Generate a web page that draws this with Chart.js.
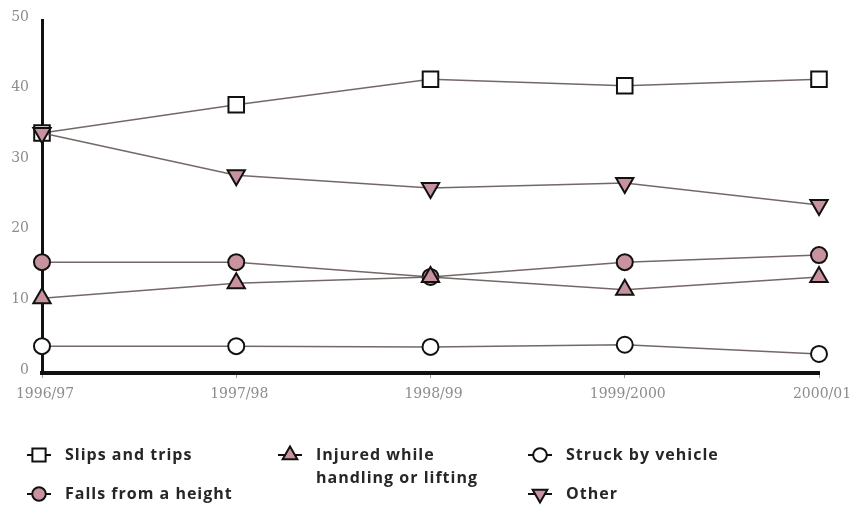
<!DOCTYPE html>
<html>
<head>
<meta charset="utf-8">
<script src="https://cdn.jsdelivr.net/npm/chart.js@4.4.0/dist/chart.umd.min.js"></script>
<style>
  html, body { margin: 0; padding: 0; background: #fff; }
  #wrap { width: 850px; height: 507px; }
</style>
</head>
<body>
<div id="wrap"><canvas id="chart" width="850" height="507"></canvas></div>
<script>
// Data
const years = ['1996/97', '1997/98', '1998/99', '1999/2000', '2000/01'];
const slipsAndTrips = [34, 38, 41.6, 40.7, 41.6];
const injuredHandling = [10.6, 12.7, 13.6, 11.8, 13.6];
const struckByVehicle = [3.8, 3.8, 3.7, 4, 2.7];
const fallsFromHeight = [15.7, 15.7, 13.6, 15.7, 16.7];
const otherCauses = [34, 28, 26.2, 26.9, 23.8];
const yTicks = [0, 10, 20, 30, 40, 50];

const pink = '#c8939e';
const lineColor = 'rgba(92, 78, 76, 0.85)';

function series(label, data, style, fill, radius, rotation, legendLines, slot) {
    return {
        label: label,
        data: data,
        borderColor: lineColor,
        borderWidth: 1.5,
        pointStyle: style,
        pointRotation: rotation,
        pointRadius: radius,
        pointHoverRadius: radius,
        pointBackgroundColor: fill,
        pointBorderColor: '#111',
        pointBorderWidth: 2,
        legendLines: legendLines,
        legendSlot: slot
    };
}

// index 0 is drawn on top
const datasets = [
    series('Other', otherCauses, 'triangle', pink, 10, 180, ['Other'], [2, 1]),
    series('Injured while handling or lifting', injuredHandling, 'triangle', pink, 10, 0, ['Injured while', 'handling or lifting'], [1, 0]),
    series('Falls from a height', fallsFromHeight, 'circle', pink, 8, 0, ['Falls from a height'], [0, 1]),
    series('Struck by vehicle', struckByVehicle, 'circle', '#fff', 8, 0, ['Struck by vehicle'], [2, 0]),
    series('Slips and trips', slipsAndTrips, 'rect', '#fff', 11, 0, ['Slips and trips'], [0, 0])
];

// Legend below the plot: three columns, two rows, "-marker-" key then text
const bottomLegend = {
    id: 'bottomLegend',
    afterDraw(chart) {
        const ctx = chart.ctx;
        const colX = [27, 278, 528];
        const rowY = [455, 494];
        ctx.save();
        chart.data.datasets.forEach(ds => {
            const x = colX[ds.legendSlot[0]];
            const y = rowY[ds.legendSlot[1]];
            ctx.strokeStyle = '#111';
            ctx.lineWidth = 2;
            ctx.beginPath();
            ctx.moveTo(x, y);
            ctx.lineTo(x + 24, y);
            ctx.stroke();
            ctx.fillStyle = ds.pointBackgroundColor;
            ctx.strokeStyle = '#111';
            Chart.helpers.drawPoint(ctx, {
                pointStyle: ds.pointStyle,
                rotation: ds.pointRotation,
                radius: ds.pointRadius * 0.85,
                borderWidth: 2
            }, x + 12, y);
            ctx.fillStyle = '#262626';
            ctx.font = 'bold 16px "Open Sans"';
            ctx.letterSpacing = '1px';
            ctx.textBaseline = 'middle';
            ds.legendLines.forEach((line, i) => {
                ctx.fillText(line, x + 38, y + i * 23);
            });
        });
        ctx.restore();
    }
};

new Chart(document.getElementById('chart'), {
    type: 'line',
    data: { labels: years, datasets: datasets },
    options: {
        responsive: false,
        animation: false,
        events: [],
        layout: { padding: { top: 20, right: 31, bottom: 0, left: 0 } },
        plugins: {
            legend: { display: false },
            tooltip: { enabled: false }
        },
        scales: {
            x: {
                offset: false,
                grid: { display: true, drawOnChartArea: false, drawTicks: true, tickLength: 5, color: '#999' },
                border: { display: true, color: '#111', width: 4 },
                ticks: {
                    color: '#8c8c8c',
                    font: { family: 'DejaVu Serif', size: 14 },
                    padding: 8,
                    labelOffset: 3,
                    maxRotation: 0,
                    autoSkip: false
                },
                afterFit(scale) {
                    scale.height = 134;
                    scale.paddingLeft = 0;
                    scale.paddingRight = 0;
                }
            },
            y: {
                min: 0,
                max: 50,
                afterBuildTicks(scale) {
                    scale.ticks = yTicks.map(v => ({ value: v }));
                },
                grid: { display: false },
                border: { display: true, color: '#111', width: 3 },
                ticks: {
                    color: '#8c8c8c',
                    font: { family: 'DejaVu Serif', size: 14 },
                    padding: 5,
                    labelOffset: -3
                },
                afterFit(scale) {
                    scale.width = 42;
                    scale.paddingTop = 0;
                    scale.paddingBottom = 0;
                }
            }
        }
    },
    plugins: [bottomLegend]
});
</script>
</body>
</html>
